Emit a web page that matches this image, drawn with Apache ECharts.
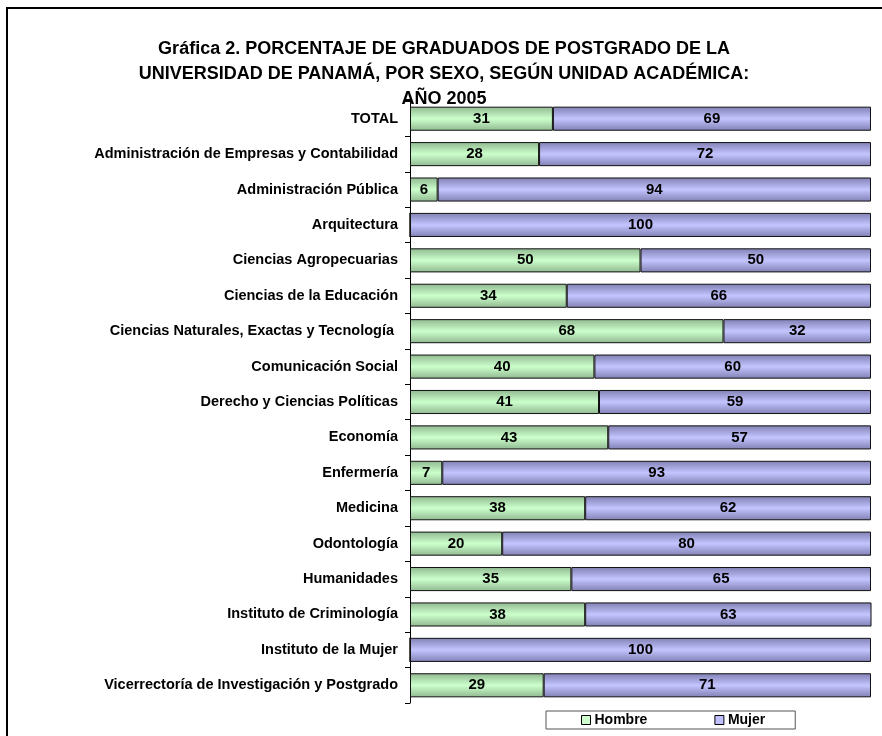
<!DOCTYPE html>
<html>
<head>
<meta charset="utf-8">
<script src="https://cdn.jsdelivr.net/npm/echarts@6/dist/echarts.min.js"></script>
<style>html,body{margin:0;padding:0;background:#fff}#c{width:882px;height:736px}</style>
</head>
<body>
<div id="c"></div>
<script>
const categories = [
  'TOTAL',
  'Administración de Empresas y Contabilidad',
  'Administración Pública',
  'Arquitectura',
  'Ciencias Agropecuarias',
  'Ciencias de la Educación',
  'Ciencias Naturales, Exactas y Tecnología ',
  'Comunicación Social',
  'Derecho y Ciencias Políticas',
  'Economía',
  'Enfermería',
  'Medicina',
  'Odontología',
  'Humanidades',
  'Instituto de Criminología',
  'Instituto de la Mujer',
  'Vicerrectoría de Investigación y Postgrado'
];
const hombre = [31, 28, 6, 0, 50, 34, 68, 40, 41, 43, 7, 38, 20, 35, 38, 0, 29];
const mujer  = [69, 72, 94, 100, 50, 66, 32, 60, 59, 57, 93, 62, 80, 65, 63, 100, 71];
const titleText = 'Gráfica 2. PORCENTAJE DE GRADUADOS DE POSTGRADO DE LA\nUNIVERSIDAD DE PANAMÁ, POR SEXO, SEGÚN UNIDAD ACADÉMICA:\nAÑO 2005';

const FONT = 'Liberation Sans, Arial, sans-serif';
function grad(edge, mid) {
  return new echarts.graphic.LinearGradient(0, 0, 0, 1, [
    {offset: 0, color: edge}, {offset: 0.5, color: mid}, {offset: 1, color: edge}
  ]);
}
const chart = echarts.init(document.getElementById('c'));
const labelCfg = {
  show: true, position: 'inside', color: '#000', fontWeight: 'bold',
  fontSize: 15, fontFamily: FONT,
  formatter: p => (p.value === 0 ? '' : p.value)
};
chart.setOption({
  animation: false,
  graphic: [{
    type: 'rect', shape: {x: 7, y: 8, width: 900, height: 760},
    style: {fill: 'none', stroke: '#000', lineWidth: 2}, z: -1
  }],
  title: {
    text: titleText, left: 439, top: 32, textAlign: 'center',
    textStyle: {fontFamily: FONT, fontWeight: 'bold', fontSize: 18, lineHeight: 25, color: '#000'}
  },
  legend: {
    data: [
      {name: 'Hombre', itemStyle: {color: '#CCFFCC', borderColor: '#000', borderWidth: 1}},
      {name: 'Mujer', itemStyle: {color: '#C0C0FF', borderColor: '#000', borderWidth: 1}}
    ],
    left: 546, top: 711,
    icon: 'rect', itemWidth: 9, itemHeight: 9, itemGap: 67,
    padding: [2, 30, 2, 35],
    borderColor: '#555', borderWidth: 1,
    textStyle: {fontFamily: FONT, fontWeight: 'bold', fontSize: 14, color: '#000', padding: [0,0,0,-1]}
  },
  grid: {left: 410, right: 11, top: 101, bottom: 33, containLabel: false},
  xAxis: {
    type: 'value', min: 0, max: 100, show: false
  },
  yAxis: {
    type: 'category', data: categories, inverse: true,
    axisLine: {show: true, lineStyle: {color: '#000', width: 1}},
    axisTick: {show: true, length: 5, lineStyle: {color: '#000'}},
    axisLabel: {fontFamily: FONT, fontWeight: 'bold', fontSize: 14.5, color: '#000', margin: 12}
  },
  series: [
    {
      name: 'Hombre', type: 'bar', stack: 'a', data: hombre, barCategoryGap: '32%',
      itemStyle: {color: grad('#90B890', '#CCFFCC'), borderColor: '#111', borderWidth: 1},
      label: labelCfg
    },
    {
      name: 'Mujer', type: 'bar', stack: 'a', data: mujer, barCategoryGap: '32%', clip: true,
      itemStyle: {color: grad('#8080B4', '#C4C4FF'), borderColor: '#111', borderWidth: 1},
      label: labelCfg
    }
  ]
});
</script>
</body>
</html>
